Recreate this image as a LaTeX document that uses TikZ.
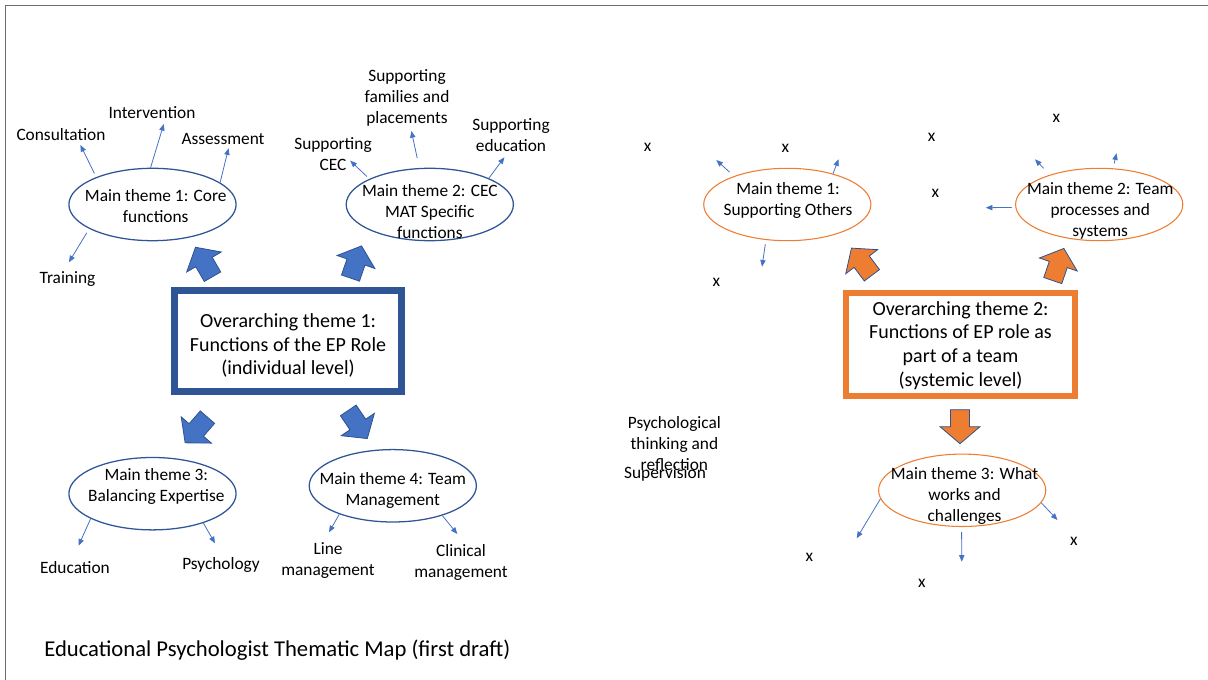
\documentclass[tikz,border=0pt]{standalone}
\usepackage{fontspec}
\setmainfont{Carlito}
\usetikzlibrary{shapes.geometric,arrows.meta}
\definecolor{edgeblue}{HTML}{2F5597}
\definecolor{accblue}{HTML}{4472C4}
\definecolor{outblue}{HTML}{2F528F}
\definecolor{accorange}{HTML}{ED7D31}
\definecolor{framegray}{HTML}{6E6E6E}
\begin{document}
\begin{tikzpicture}[x=0.75pt,y=-0.75pt,
  lbl/.style={font=\fontsize{13}{15.75}\selectfont, align=center, inner sep=0pt, yshift=-1.1pt},
  ovtext/.style={font=\fontsize{15}{17.8}\selectfont, align=center, inner sep=0pt},
  themeell/.style={ellipse, minimum width=125.4pt, minimum height=54.3pt, inner sep=0pt},
  blueell/.style={themeell, draw=edgeblue, line width=0.95pt},
  orangeell/.style={themeell, draw=accorange, line width=0.8pt},
  sub/.style={draw=accblue, line width=0.6pt, -{Triangle[length=5pt,width=4pt]}},
  pics/blockarrow/.style={code={
    \draw[pic actions, line width=0.6pt, line join=miter]
      (-9.5,17) -- (-9.5,0) -- (-20,0) -- (0,-17) -- (20,0) -- (9.5,0) -- (9.5,17) -- cycle;}},
  bluearrow/.style={fill=accblue, draw=outblue},
  orangearrow/.style={fill=accorange, draw=outblue}]

\useasboundingbox (0,0) rectangle (1208,680);
\draw[framegray, line width=1.1pt] (5.5,680) -- (5.5,5.5) -- (1208,5.5);

% ---------- Overarching theme 1 (individual level) ----------
\node[draw=edgeblue, line width=4.9pt, minimum width=170.5pt, minimum height=76pt, inner sep=0pt] (ov1) at (288,341) {};
\node[ovtext] (ov1t) at (288,345.5) {Overarching theme 1:\\Functions of the EP Role\\(individual level)};

\pic[bluearrow, rotate=30] at (204,262) {blockarrow};
\pic[bluearrow, rotate=-19] at (356,262) {blockarrow};
\pic[bluearrow, rotate=139] at (196.3,430) {blockarrow};
\pic[bluearrow, rotate=-146] at (357.8,424.5) {blockarrow};

\node[blueell] (m1) at (152.5,204.5) {};
\node[lbl] (m1t) at (155.7,204.5) {Main theme 1: Core\\functions};
\node[blueell] (m2) at (429.8,204.5) {};
\node[lbl] (m2t) at (429.8,209.7) {Main theme 2: CEC\\MAT Specific\\functions};
\node[blueell] (m3) at (152.5,493.7) {};
\node[lbl] (m3t) at (156.3,485) {Main theme 3:\\Balancing Expertise};
\node[blueell] (m4) at (392.8,485.8) {};
\node[lbl] (m4t) at (392.7,488.8) {Main theme 4: Team\\Management};

% subthemes
\node[lbl] (consult) at (61,133) {Consultation};
\node[lbl] (interv) at (152,111) {Intervention};
\node[lbl] (assess) at (223,138) {Assessment};
\node[lbl] (train) at (67.5,278) {Training};
\node[lbl] (cec) at (333,152.5) {Supporting\\CEC};
\node[lbl] (famil) at (407,96.8) {Supporting\\families and\\placements};
\node[lbl] (educsup) at (511,133.7) {Supporting\\education};
\node[lbl] (educ) at (75,565.7) {Education};
\node[lbl] (psych) at (221,564) {Psychology};
\node[lbl] (linem) at (328,559.5) {Line\\management};
\node[lbl] (clinm) at (461,561.2) {Clinical\\management};

\coordinate (a1) at (80.4,145);
\coordinate (a2) at (163.8,124);
\coordinate (a3) at (228.5,148.3);
\coordinate (a4) at (68.9,262.3);
\coordinate (a5) at (350.2,160.7);
\coordinate (a6) at (411.4,131);
\coordinate (a7) at (504.4,157.3);
\coordinate (a8) at (78.5,545.7);
\coordinate (a9) at (215,543.3);
\coordinate (a10) at (329,532.3);
\coordinate (a11) at (457.3,534);

\draw[sub, shorten <=3pt] (m1.154.3) -- (a1);
\draw[sub] (m1.93.8) -- (a2);
\draw[sub] (m1.18.5) -- (a3);
\draw[sub, shorten <=3.5pt] (m1.201.5) -- (a4);
\draw[sub, shorten <=2.5pt] (m2.157.8) -- (a5);
\draw[sub, shorten <=7.5pt] (m2.106.8) -- (a6);
\draw[sub] (m2.24) -- (a7);
\draw[sub] (m3.202.8) -- (a8);
\draw[sub] (m3.330.6) -- (a9);
\draw[sub] (m4.208.9) -- (a10);
\draw[sub] (m4.329.1) -- (a11);

% ---------- Overarching theme 2 (systemic level) ----------
\node[draw=accorange, line width=4.5pt, minimum width=172.2pt, minimum height=77.5pt, inner sep=0pt] (ov2) at (960.5,344.7) {};
\node[ovtext] (ov2t) at (960.5,345.5) {Overarching theme 2:\\Functions of EP role as\\part of a team\\(systemic level)};

\pic[orangearrow, rotate=37] at (861.7,261.7) {blockarrow};
\pic[orangearrow, rotate=-19] at (1058.3,264.5) {blockarrow};
\pic[orangearrow, rotate=180] at (960,426.7) {blockarrow};

\node[orangeell] (r1) at (787.3,204.5) {};
\node[lbl] (r1t) at (788,198.9) {Main theme 1:\\Supporting Others};
\node[orangeell] (r2) at (1099.2,204.5) {};
\node[lbl] (r2t) at (1100.2,209.3) {Main theme 2: Team\\processes and\\systems};
\node[orangeell] (r3) at (962.2,490.3) {};
\node[lbl] (r3t) at (964.5,494.2) {Main theme 3: What\\works and\\challenges};

\node[lbl] (x1) at (647.7,145.7) {x};
\node[lbl] (x2) at (785.3,146.7) {x};
\node[lbl] (x3) at (931.5,135.7) {x};
\node[lbl] (x4) at (1056.4,117.3) {x};
\node[lbl] (x5) at (935.4,192.3) {x};
\node[lbl] (x6) at (716.3,280.7) {x};
\node[lbl] (x7) at (809.4,555.7) {x};
\node[lbl] (x8) at (921.8,582.3) {x};
\node[lbl] (x9) at (1073.8,540) {x};

\node[lbl] (psythink) at (674.4,442.3) {Psychological\\thinking and\\reflection};
\node[lbl] (superv) at (665,472.7) {Supervision};

\coordinate (b1) at (716.3,160);
\coordinate (b2) at (838.5,159.3);
\coordinate (b3) at (762,266.7);
\coordinate (b4) at (985.8,207.7);
\coordinate (b5) at (1035,159.3);
\coordinate (b6) at (1116.5,153.3);
\coordinate (b7) at (856.7,538.3);
\coordinate (b8) at (961.8,561.7);
\coordinate (b9) at (1057.5,520);

\draw[sub, shorten <=4.3pt] (r1.152.5) -- (b1);
\draw[sub] (r1.34.6) -- (b2);
\draw[sub, shorten <=3.2pt] (r1.239.9) -- (b3);
\draw[sub, shorten <=2.7pt] (r2.182.1) -- (b4);
\draw[sub, shorten <=6.7pt] (r2.149.9) -- (b5);
\draw[sub, shorten <=3.6pt] (r2.69.2) -- (b6);
\draw[sub] (r3.186.2) -- (b7);
\draw[sub, shorten <=3.9pt] (r3.269.4) -- (b8);
\draw[sub] (r3.351.9) -- (b9);

% caption
\node[font=\fontsize{17}{20}\selectfont, anchor=west, inner sep=0pt] (caption) at (44,650.5)
  {Educational Psychologist Thematic Map (first draft)};
\end{tikzpicture}
\end{document}
